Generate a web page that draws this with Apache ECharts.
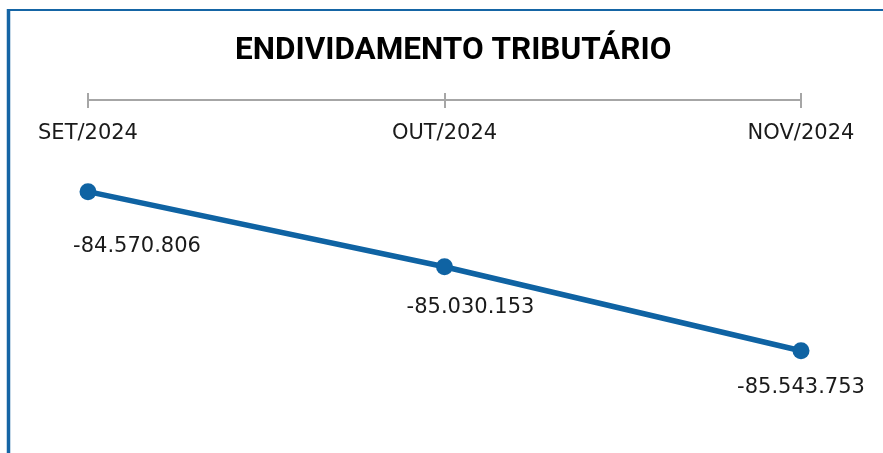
<!DOCTYPE html>
<html lang="pt-BR">
<head>
    <meta charset="UTF-8">
    <title>Endividamento Tributário</title>
    <style>
        html, body { margin: 0; padding: 0; background: #fff; }
        #chart { width: 883px; height: 453px; }
    </style>
</head>
<body>
<div id="chart"></div>
<script src="https://cdn.jsdelivr.net/npm/echarts@6/dist/echarts.min.js"></script>
<script type="text/javascript">
    var months = ['SET/2024', 'OUT/2024', 'NOV/2024'];
    var debtValues = [-84570806, -85030153, -85543753];

    // deslocamento dos rótulos em relação ao ponto (px)
    var labelOffsets = [[49, 55], [26, 41], [0, 37]];

    function formatBR(v) {
        var s = Math.abs(Math.round(v)).toString().replace(/\B(?=(\d{3})+(?!\d))/g, '.');
        return (v < 0 ? '-' : '') + s;
    }

    var seriesData = [];
    for (var i = 0; i < debtValues.length; i++) {
        seriesData.push({
            value: debtValues[i],
            label: { offset: labelOffsets[i] }
        });
    }

    var blue = '#0F63A3';
    var myChart = echarts.init(document.getElementById('chart'));
    var option = {
        animation: false,
        title: {
            text: 'ENDIVIDAMENTO TRIBUTÁRIO',
            left: 230,
            top: 30,
            textStyle: {
                fontFamily: 'Roboto',
                fontWeight: 'bold',
                fontSize: 31.5,
                color: '#000'
            }
        },
        graphic: [
            {
                type: 'line',
                shape: { x1: 8.5, y1: 9, x2: 8.5, y2: 453 },
                style: { stroke: '#1565A5', lineWidth: 3.5 }
            },
            {
                type: 'line',
                shape: { x1: 7, y1: 10, x2: 883, y2: 10 },
                style: { stroke: '#1565A5', lineWidth: 2 }
            }
        ],
        grid: {
            left: 88,
            right: 82,
            top: 100,
            bottom: 13
        },
        xAxis: [
            {
                type: 'category',
                position: 'top',
                boundaryGap: false,
                data: months,
                axisLine: { lineStyle: { color: '#A6A6A6', width: 2 } },
                axisTick: { inside: true, length: 8, lineStyle: { color: '#A6A6A6', width: 2 } },
                axisLabel: {
                    inside: true,
                    margin: 23,
                    fontFamily: 'DejaVu Sans',
                    fontSize: 21,
                    color: '#1a1a1a',
                    verticalAlign: 'top',
                    interval: 0
                },
                splitLine: { show: false }
            },
            {
                type: 'category',
                position: 'top',
                boundaryGap: false,
                data: months,
                axisLine: { show: false },
                axisTick: { inside: false, length: 7, lineStyle: { color: '#A6A6A6', width: 2 } },
                axisLabel: { show: false },
                splitLine: { show: false }
            }
        ],
        yAxis: {
            type: 'value',
            show: false,
            min: -86090000,
            max: -84010000,
            splitLine: { show: false }
        },
        series: [{
            type: 'line',
            data: seriesData,
            symbol: 'circle',
            symbolSize: 17,
            lineStyle: { color: blue, width: 5.5 },
            itemStyle: { color: blue },
            label: {
                show: true,
                position: 'inside',
                fontFamily: 'DejaVu Sans',
                fontSize: 21,
                color: '#1a1a1a',
                formatter: function (p) { return formatBR(p.value); }
            }
        }]
    };
    myChart.setOption(option);
</script>
</body>
</html>
